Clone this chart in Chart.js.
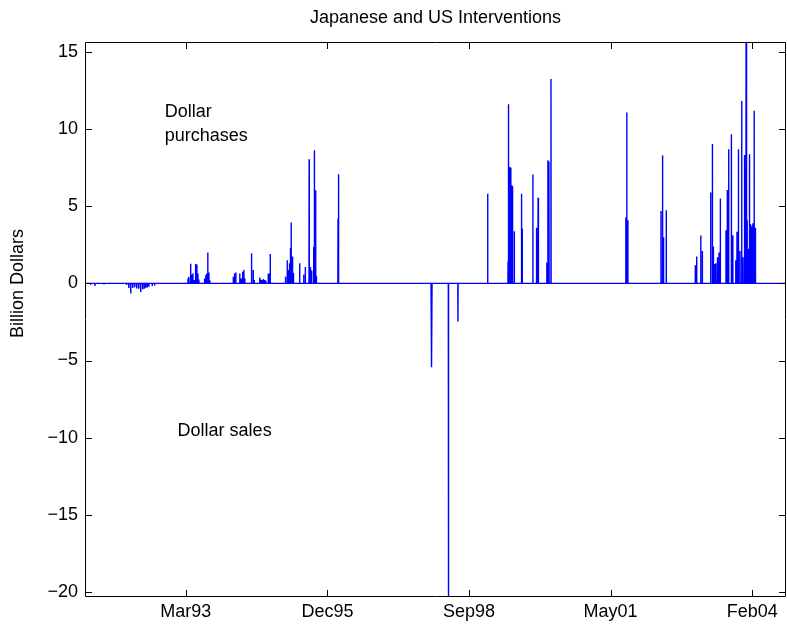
<!DOCTYPE html>
<html>
<head>
<meta charset="utf-8">
<script src="https://cdn.jsdelivr.net/npm/chart.js@4.4.0/dist/chart.umd.min.js"></script>
<style>
  body { margin: 0; background: #fff; }
  canvas { display: block; }
</style>
</head>
<body>
<canvas id="mycanvas" width="787" height="633"></canvas>
<script>
// daily series runs over this window, zero on days with no intervention
var startDate = '1991-04-01';
var endDate = '2004-10-20';

// intervention days and amounts in billion dollars (+ purchases, - sales)
var interventionDates = [
  '1991-05-11', '1991-06-10', '1991-08-13',
  '1992-01-19', '1992-02-04', '1992-02-18', '1992-03-03', '1992-03-17', '1992-03-31',
  '1992-04-14', '1992-04-28', '1992-05-12', '1992-05-24', '1992-06-03', '1992-06-14',
  '1992-06-25', '1992-07-19', '1992-08-05',
  '1993-03-28', '1993-04-04', '1993-04-16', '1993-04-23', '1993-05-02', '1993-05-12',
  '1993-05-21', '1993-05-30', '1993-06-06', '1993-06-13', '1993-07-23', '1993-08-01',
  '1993-08-08', '1993-08-15', '1993-08-23', '1993-08-30',
  '1994-02-11', '1994-02-20', '1994-03-01', '1994-03-29', '1994-04-08', '1994-04-18',
  '1994-04-27', '1994-05-04', '1994-06-18', '1994-06-22', '1994-07-02', '1994-07-09',
  '1994-08-17', '1994-08-24', '1994-09-03', '1994-09-12', '1994-09-22', '1994-09-29',
  '1994-10-16', '1994-10-23', '1994-10-30',
  '1995-02-15', '1995-02-27', '1995-03-08', '1995-03-15', '1995-03-22', '1995-03-27',
  '1995-04-03', '1995-04-08', '1995-04-12', '1995-05-26', '1995-06-24', '1995-07-05',
  '1995-08-01', '1995-08-10', '1995-08-19', '1995-09-02', '1995-09-07', '1995-09-16',
  '1995-09-21',
  '1996-02-21', '1996-02-26',
  '1997-12-10', '1997-12-15',
  '1998-04-11', '1998-06-17',
  '1999-01-13', '1999-06-06', '1999-06-10', '1999-06-19', '1999-06-26', '1999-07-03',
  '1999-07-08', '1999-07-20', '1999-09-09', '1999-09-14', '1999-11-28', '1999-12-24',
  '2000-01-04', '2000-01-07', '2000-03-06', '2000-03-14', '2000-03-21', '2000-04-04',
  '2001-09-15', '2001-09-22', '2001-09-29',
  '2002-05-21', '2002-06-01', '2002-06-08', '2002-06-27',
  '2003-01-18', '2003-01-28', '2003-02-26', '2003-03-09', '2003-05-07', '2003-05-19',
  '2003-05-26', '2003-06-03', '2003-06-13', '2003-06-24', '2003-07-05', '2003-07-14',
  '2003-08-23', '2003-09-01', '2003-09-11', '2003-09-30', '2003-10-10', '2003-10-31',
  '2003-11-09', '2003-11-19', '2003-11-30', '2003-12-12', '2003-12-21', '2003-12-31',
  '2004-01-02', '2004-01-12', '2004-01-19', '2004-01-29', '2004-02-05', '2004-02-12',
  '2004-02-21', '2004-02-29', '2004-03-09', '2004-03-18'
];
var interventionAmounts = [
  -0.08, -0.17, -0.07,
  -0.10, -0.30, -0.65, -0.30, -0.25, -0.33,
  -0.35, -0.56, -0.40, -0.35, -0.28, -0.26,
  -0.22, -0.17, -0.13,
  0.32, 0.43, 1.28, 0.58, 0.65, 0.22,
  1.26, 1.23, 0.65, 0.26, 0.32, 0.54,
  0.65, 2.00, 0.70, 0.20,
  0.43, 0.65, 0.71, 0.65, 0.32, 0.76,
  0.87, 0.32, 1.08, 1.95, 0.87, 0.22,
  0.39, 0.26, 0.22, 0.28, 0.22, 0.17,
  0.65, 0.65, 1.90,
  0.43, 1.50, 0.87, 1.30, 2.30, 3.95,
  1.20, 1.75, 0.68, 1.30, 0.58, 1.06,
  8.05, 1.06, 0.84, 2.36, 8.64, 6.04,
  0.50,
  4.20, 7.08,
  -2.20, -5.43,
  -20.33, -2.47,
  5.82, 1.40, 11.62, 7.55, 7.50, 6.36,
  6.30, 3.38, 5.82, 3.55, 7.06, 3.60,
  5.56, 5.50, 1.36, 7.99, 7.90, 13.25,
  4.27, 11.08, 4.10,
  4.70, 8.31, 3.00, 4.74,
  1.17, 1.75, 3.10, 2.10, 5.90, 9.03,
  2.40, 1.25, 1.30, 1.70, 2.00, 5.50,
  3.45, 6.05, 8.70, 9.67, 3.12, 1.50,
  3.35, 8.70, 2.10, 11.83, 1.70, 4.00,
  8.33, 15.65, 4.10, 2.25, 8.38, 3.85,
  3.70, 3.90, 11.20, 3.60
];

var tickDates = ['1993-03-13', '1995-12-08', '1998-09-03', '2001-05-30', '2004-02-24'];
var tickLabels = ['Mar93', 'Dec95', 'Sep98', 'May01', 'Feb04'];
var yTicks = [-20, -15, -10, -5, 0, 5, 10, 15];

var notes = [
  { lines: ['Dollar', 'purchases'], date: '1992-10-15', value: 10.35 },
  { lines: ['Dollar sales'], date: '1993-01-14', value: -9.6 }
];
var yLabel = 'Billion Dollars';

var FONT = '"Liberation Sans", Arial, Helvetica, sans-serif';
var FONT_SIZE = 18;

function toDay(s) {
  var p = s.split('-');
  return Date.UTC(+p[0], +p[1] - 1, +p[2]) / 86400000;
}

// each intervention is a one-day spike off the zero line
var points = [{ x: toDay(startDate), y: 0 }];
for (var i in interventionDates) {
  var d = toDay(interventionDates[i]);
  points.push({ x: d - 1, y: 0 });
  points.push({ x: d, y: interventionAmounts[i] });
  points.push({ x: d + 1, y: 0 });
}
points.push({ x: toDay(endDate), y: 0 });

var yMin = Math.min.apply(null, interventionAmounts);
var yMax = Math.max.apply(null, interventionAmounts);

// matlab style box with inward ticks on all four sides, plus the text notes
var boxPlugin = {
  id: 'box',
  afterDraw: function(chart) {
    var ctx = chart.ctx;
    var a = chart.chartArea;
    var xs = chart.scales.x, ys = chart.scales.y;
    var len = 7;
    ctx.save();
    ctx.strokeStyle = '#000';
    ctx.lineWidth = 1;
    ctx.beginPath();
    ctx.rect(Math.round(a.left) + 0.5, Math.round(a.top) + 0.5,
      Math.round(a.right - a.left) - 1, Math.round(a.bottom - a.top) - 1);
    tickDates.forEach(function(t) {
      var px = Math.round(xs.getPixelForValue(toDay(t))) + 0.5;
      ctx.moveTo(px, a.bottom); ctx.lineTo(px, a.bottom - len);
      ctx.moveTo(px, a.top); ctx.lineTo(px, a.top + len);
    });
    yTicks.forEach(function(v) {
      var py = Math.round(ys.getPixelForValue(v)) + 0.5;
      ctx.moveTo(a.left, py); ctx.lineTo(a.left + len, py);
      ctx.moveTo(a.right, py); ctx.lineTo(a.right - len, py);
    });
    ctx.stroke();

    ctx.fillStyle = '#000';
    ctx.font = FONT_SIZE + 'px ' + FONT;
    ctx.textAlign = 'left';
    ctx.textBaseline = 'middle';
    var lh = 24;
    notes.forEach(function(n) {
      var x = xs.getPixelForValue(toDay(n.date));
      var y = ys.getPixelForValue(n.value) - (n.lines.length - 1) * lh / 2;
      n.lines.forEach(function(line, k) {
        ctx.fillText(line, x, y + k * lh);
      });
    });

    // y axis label, centred on the zero line
    ctx.translate(18, ys.getPixelForValue(0));
    ctx.rotate(-Math.PI / 2);
    ctx.textAlign = 'center';
    ctx.fillText(yLabel, 0, 0);
    ctx.restore();
  }
};

var ctx = document.getElementById('mycanvas');

var chart = new Chart(ctx, {
  type: 'line',
  data: {
    datasets: [{
      label: 'Interventions',
      data: points,
      borderColor: '#0000ff',
      backgroundColor: '#0000ff',
      borderWidth: 1.4,
      pointRadius: 0,
      tension: 0,
      fill: false
    }]
  },
  options: {
    responsive: false,
    animation: false,
    devicePixelRatio: 1,
    layout: { padding: { left: 0, right: 1, top: 0, bottom: 0 } },
    plugins: {
      legend: { display: false },
      tooltip: { enabled: false },
      title: {
        display: true,
        text: 'Japanese and US Interventions',
        fullSize: false,
        color: '#000',
        font: { family: FONT, size: FONT_SIZE, weight: 'normal' },
        padding: { top: 7, bottom: 13.4 }
      }
    },
    scales: {
      x: {
        type: 'linear',
        min: toDay(startDate),
        max: toDay(endDate),
        grid: { display: false, drawTicks: false },
        border: { display: false },
        afterBuildTicks: function(scale) {
          scale.ticks = tickDates.map(function(t) { return { value: toDay(t) }; });
        },
        afterFit: function(scale) { scale.height = 36; },
        ticks: {
          autoSkip: false,
          maxRotation: 0,
          padding: 4,
          color: '#000',
          font: { family: FONT, size: FONT_SIZE },
          callback: function(value) {
            var k = tickDates.map(toDay).indexOf(value);
            return k >= 0 ? tickLabels[k] : '';
          }
        }
      },
      y: {
        type: 'linear',
        min: yMin,
        max: yMax,
        grid: { display: false, drawTicks: false },
        border: { display: false },
        afterBuildTicks: function(scale) {
          scale.ticks = yTicks.map(function(v) { return { value: v }; });
        },
        afterFit: function(scale) { scale.width = 85; },
        ticks: {
          padding: 7,
          color: '#000',
          font: { family: FONT, size: FONT_SIZE },
          callback: function(value) {
            return value < 0 ? '\u2212' + Math.abs(value) : String(value);
          }
        }
      }
    }
  },
  plugins: [boxPlugin]
});
</script>
</body>
</html>
